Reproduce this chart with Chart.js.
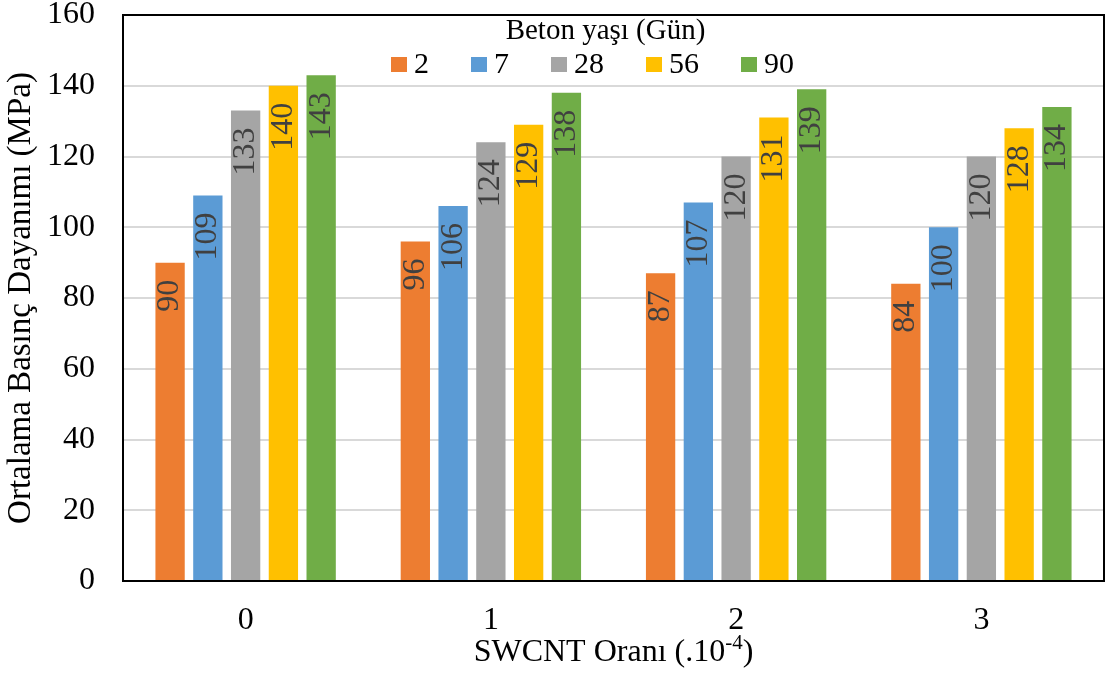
<!DOCTYPE html>
<html>
<head>
<meta charset="utf-8">
<script src="https://cdn.jsdelivr.net/npm/chart.js@4.4.1/dist/chart.umd.min.js"></script>
<style>
  html, body { margin: 0; padding: 0; background: #ffffff; }
  #wrap { width: 1110px; height: 678px; }
</style>
</head>
<body>
<div id="wrap"><canvas id="chart" width="1110" height="678"></canvas></div>
<script>
// SWCNT ratio groups (x 10^-4)
const categories = ['0', '1', '2', '3'];
// Concrete age in days, one series per age
const ageLabels = ['2', '7', '28', '56', '90'];
// Mean compressive strength (MPa) per age, one value per SWCNT ratio
const age2  = [90, 96, 87, 84];
const age7  = [109, 106, 107, 100];
const age28 = [133, 124, 120, 120];
const age56 = [140, 129, 131, 128];
const age90 = [143, 138, 139, 134];
// Value axis ticks
const yTickValues = [0, 20, 40, 60, 80, 100, 120, 140, 160];

const seriesColors = ['#ED7D31', '#5B9BD5', '#A5A5A5', '#FFC000', '#70AD47'];
const seriesValues = [age2, age7, age28, age56, age90];

const SERIF = '"Liberation Serif", "Times New Roman", serif';

// Plot frame drawn around the whole chart area
const framePlugin = {
  id: 'frame',
  afterDatasetsDraw(chart) {
    const { ctx, chartArea: a } = chart;
    ctx.save();
    ctx.strokeStyle = '#000000';
    ctx.lineWidth = 2;
    ctx.strokeRect(a.left, a.top, a.right - a.left, a.bottom - a.top);
    ctx.restore();
  }
};

// Rotated value labels just inside the top of every bar
const valueLabelPlugin = {
  id: 'valueLabels',
  afterDatasetsDraw(chart) {
    const { ctx } = chart;
    ctx.save();
    ctx.font = '32px ' + SERIF;
    ctx.fillStyle = '#404040';
    ctx.textAlign = 'right';
    ctx.textBaseline = 'middle';
    chart.data.datasets.forEach((ds, di) => {
      const meta = chart.getDatasetMeta(di);
      meta.data.forEach((bar, i) => {
        ctx.save();
        ctx.translate(bar.x, bar.y + 17);
        ctx.rotate(-Math.PI / 2);
        ctx.fillText(String(ds.data[i]), 0, 0);
        ctx.restore();
      });
    });
    ctx.restore();
  }
};

// Legend with its title, placed inside the top of the plot area
const insideLegendPlugin = {
  id: 'insideLegend',
  afterDatasetsDraw(chart) {
    const { ctx, chartArea: a } = chart;
    const mid = (a.left + a.right) / 2;
    ctx.save();
    ctx.fillStyle = '#000000';
    ctx.textBaseline = 'alphabetic';
    ctx.textAlign = 'center';
    ctx.font = '29px ' + SERIF;
    ctx.fillText('Beton yaşı (Gün)', mid - 8, 39);

    ctx.font = '30px ' + SERIF;
    ctx.textAlign = 'left';
    const box = 16, gapText = 7, gapItem = 42;
    const items = chart.data.datasets.map(ds => ({
      text: ds.label,
      color: ds.backgroundColor,
      w: box + gapText + ctx.measureText(ds.label).width
    }));
    const total = items.reduce((s, it) => s + it.w, 0) + gapItem * (items.length - 1);
    let x = mid - 21 - total / 2;
    items.forEach(it => {
      ctx.fillStyle = it.color;
      ctx.fillRect(x, 57, box, 15);
      ctx.fillStyle = '#000000';
      ctx.fillText(it.text, x + box + gapText, 73);
      x += it.w + gapItem;
    });
    ctx.restore();
  }
};

// Category axis title with a superscript exponent
const xTitlePlugin = {
  id: 'xTitle',
  afterDraw(chart) {
    const { ctx, chartArea: a } = chart;
    const mid = (a.left + a.right) / 2;
    const base = 661;
    const mainA = 'SWCNT Oranı (.10';
    const sup = '-4';
    const mainB = ')';
    ctx.save();
    ctx.fillStyle = '#000000';
    ctx.textAlign = 'left';
    ctx.textBaseline = 'alphabetic';
    ctx.font = '32px ' + SERIF;
    const wA = ctx.measureText(mainA).width;
    const wB = ctx.measureText(mainB).width;
    ctx.font = '21px ' + SERIF;
    const wS = ctx.measureText(sup).width;
    let x = mid - (wA + wS + wB) / 2;
    ctx.font = '32px ' + SERIF;
    ctx.fillText(mainA, x, base);
    x += wA;
    ctx.font = '21px ' + SERIF;
    ctx.fillText(sup, x, base - 12);
    x += wS;
    ctx.font = '32px ' + SERIF;
    ctx.fillText(mainB, x, base);
    ctx.restore();
  }
};

const datasets = ageLabels.map((label, k) => ({
  label: label,
  data: seriesValues[k],
  backgroundColor: seriesColors[k],
  borderWidth: 0,
  categoryPercentage: 0.77,
  barPercentage: 0.776
}));

new Chart(document.getElementById('chart'), {
  type: 'bar',
  data: { labels: categories, datasets: datasets },
  options: {
    responsive: false,
    animation: false,
    devicePixelRatio: 1,
    layout: { padding: { top: 15, right: 6, left: 0, bottom: 0 } },
    plugins: {
      legend: { display: false },
      tooltip: { enabled: false },
      title: { display: false }
    },
    scales: {
      x: {
        grid: { display: false, drawTicks: false },
        border: { display: false },
        ticks: {
          color: '#000000',
          font: { family: SERIF, size: 32 },
          padding: 20
        },
        afterFit(scale) {
          scale.height = 97;
          scale.paddingLeft = 0;
          scale.paddingRight = 0;
        }
      },
      y: {
        min: 0,
        max: 160,
        afterBuildTicks(scale) { scale.ticks = yTickValues.map(v => ({ value: v })); },
        grid: { color: '#D9D9D9', lineWidth: 2, drawTicks: false },
        border: { display: false },
        ticks: {
          color: '#000000',
          font: { family: SERIF, size: 32 },
          padding: 28
        },
        title: {
          display: true,
          text: 'Ortalama Basınç Dayanımı (MPa)',
          color: '#000000',
          font: { family: SERIF, size: 33 },
          padding: { top: 2, bottom: 0 }
        },
        afterFit(scale) {
          scale.width = 123;
          scale.paddingTop = 0;
          scale.paddingBottom = 0;
        }
      }
    }
  },
  plugins: [framePlugin, valueLabelPlugin, insideLegendPlugin, xTitlePlugin]
});
</script>
</body>
</html>
